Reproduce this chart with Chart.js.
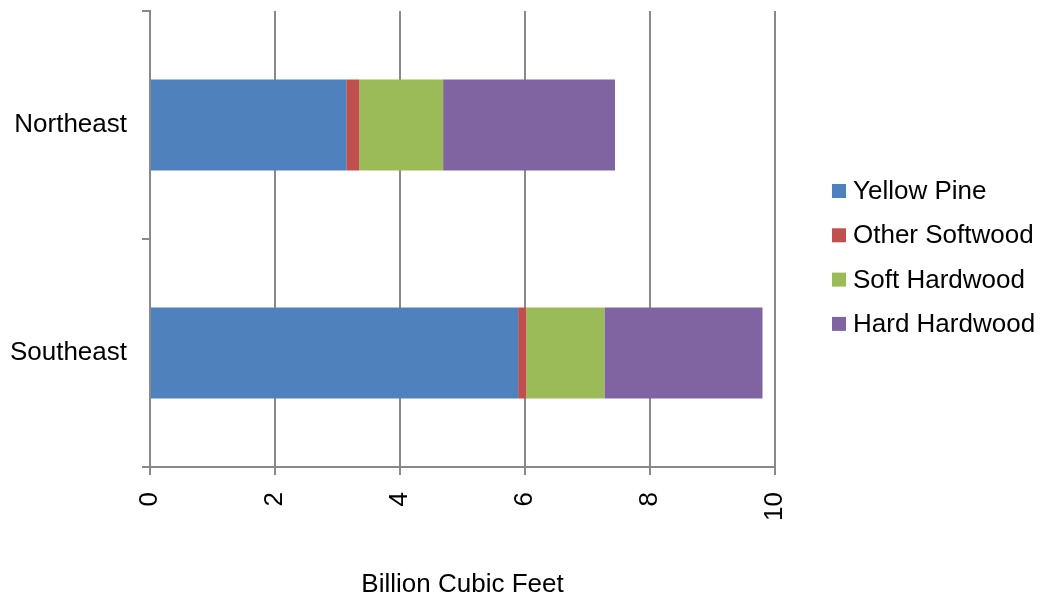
<!DOCTYPE html>
<html>
<head>
<meta charset="utf-8">
<script src="https://cdn.jsdelivr.net/npm/chart.js@4/dist/chart.umd.min.js"></script>
<style>
  html, body { margin: 0; padding: 0; background: #ffffff; }
  #wrap { width: 1042px; height: 599px; }
</style>
</head>
<body>
<div id="wrap"><canvas id="c" width="1042" height="599"></canvas></div>
<script>
// ---- data ----
const categories = ['Northeast', 'Southeast'];
const seriesNames = ['Yellow Pine', 'Other Softwood', 'Soft Hardwood', 'Hard Hardwood'];
const yellowPine    = [3.14, 5.89];
const otherSoftwood = [0.21, 0.13];
const softHardwood  = [1.34, 1.25];
const hardHardwood  = [2.75, 2.53];
const xTickValues   = [0, 2, 4, 6, 8, 10];
const xAxisTitle    = 'Billion Cubic Feet';

const colors = ['#4F81BD', '#C0504D', '#9BBB59', '#8064A2'];
const FONT = "'Liberation Sans', Arial, sans-serif";
const GRID = '#898989';

const seriesValues = [yellowPine, otherSoftwood, softHardwood, hardHardwood];

const legendPlugin = {
  id: 'sideLegend',
  afterDraw(chart) {
    const ctx = chart.ctx;
    ctx.save();
    ctx.font = '26px ' + FONT;
    ctx.textBaseline = 'middle';
    ctx.textAlign = 'left';
    const x0 = 832, y0 = 191, gap = 44.3, box = 14;
    chart.data.datasets.forEach((ds, i) => {
      const cy = y0 + i * gap;
      ctx.fillStyle = ds.backgroundColor;
      ctx.fillRect(x0, cy - box / 2, box, box);
      ctx.fillStyle = '#000000';
      ctx.fillText(ds.label, x0 + 21, cy + 1);
    });
    ctx.restore();
  }
};

new Chart(document.getElementById('c'), {
  type: 'bar',
  data: {
    labels: categories,
    datasets: seriesNames.map((name, i) => ({
      label: name,
      data: seriesValues[i],
      backgroundColor: colors[i],
      borderWidth: 0,
      barPercentage: 1.0,
      categoryPercentage: 0.4
    }))
  },
  options: {
    indexAxis: 'y',
    responsive: false,
    devicePixelRatio: 1,
    animation: false,
    layout: { padding: { left: 0, top: 11, right: 267, bottom: 0 } },
    plugins: {
      legend: { display: false },
      tooltip: { enabled: false }
    },
    scales: {
      x: {
        stacked: true,
        min: 0,
        max: 10,
        afterBuildTicks(scale) {
          scale.ticks = xTickValues.map(v => ({ value: v }));
        },
        afterFit(scale) {
          scale.height = 132;
          scale.paddingLeft = 0;
          scale.paddingRight = 0;
        },
        grid: {
          color: GRID,
          lineWidth: 2,
          drawTicks: true,
          tickLength: 8,
          tickColor: GRID
        },
        border: { display: true, color: GRID, width: 2 },
        ticks: {
          color: '#000000',
          font: { family: FONT, size: 26 },
          minRotation: 90,
          maxRotation: 90,
          padding: 17,
          autoSkip: false
        },
        title: {
          display: true,
          text: xAxisTitle,
          color: '#000000',
          font: { family: FONT, size: 26 },
          padding: { top: 0, bottom: -1 }
        }
      },
      y: {
        stacked: true,
        afterFit(scale) {
          scale.width = 150;
          scale.paddingTop = 0;
          scale.paddingBottom = 0;
        },
        grid: {
          offset: true,
          drawOnChartArea: false,
          drawTicks: true,
          tickLength: 8,
          color: GRID,
          tickColor: GRID,
          lineWidth: 2
        },
        border: { display: true, color: GRID, width: 2 },
        ticks: {
          color: '#000000',
          font: { family: FONT, size: 26 },
          padding: 15
        }
      }
    }
  },
  plugins: [legendPlugin]
});
</script>
</body>
</html>
